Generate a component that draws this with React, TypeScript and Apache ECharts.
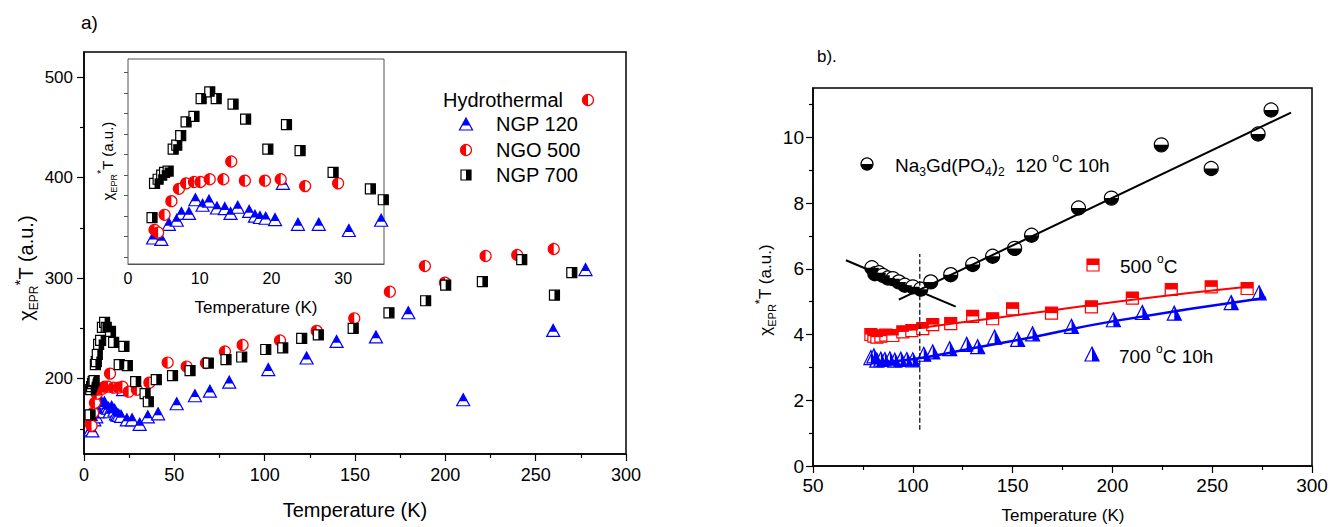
import React, { useEffect, useRef } from 'react';
import * as echarts from 'echarts';

// ---------- Panel a) data (Temperature K, chi*T a.u.) ----------
// NGP 120 (blue triangles)
const ngp120LowT = [3.5, 4.65, 5.7, 6.8, 7.45, 8.5, 9.4, 10.4, 11.3, 12.4, 13.5, 14.3, 15.3, 16.9, 17.7, 18.4, 19.2, 20.5, 21.6, 23.7, 26.6, 30.8, 35.3];
const ngp120LowV = [149, 148, 159, 162, 167, 167, 177, 173, 176, 171, 170.5, 167, 171.5, 168.5, 165, 164, 163.5, 162.5, 189, 159, 159, 154.5, 162];
const ngp120HighT = [41, 51.3, 61.4, 69.7, 80.4, 102, 123.2, 139.8, 161.6, 179.5, 209.9, 259.7, 277.6];
const ngp120HighV = [165, 175, 183, 187.5, 196.5, 209, 220.5, 237, 241.5, 265.5, 179, 248, 308.5];
// NGO 500 (red half circles)
const ngo500LowT = [3.7, 4.2, 5.1, 6.05, 7.1, 8.1, 9.2, 10.1, 11.4, 13.3, 14.4, 16.3, 19.1, 21.3, 24.7, 29.3];
const ngo500LowV = [155, 153, 166, 176, 185, 189, 190, 190, 192, 192, 205, 191, 191, 192, 187, 189];
const ngo500HighT = [36.2, 46.3, 56.8, 67.5, 78, 87.8, 108.5, 128.8, 149.6, 169.3, 188.7, 199.8, 222.3, 239.8, 260];
const ngo500HighV = [196, 216, 212, 215.5, 227, 233.5, 238, 247.5, 260, 286.5, 312, 295.5, 322, 323, 329];
// NGP 700 (black half squares)
const ngp700LowT = [3.35, 3.7, 4.2, 4.7, 5.1, 5.6, 6.3, 6.8, 7.35, 8.1, 9.2, 10.2, 11.4, 12.3, 14.65, 16.4, 19.5, 22.1, 24.0, 28.6, 33.8, 35.6];
const ngp700LowV = [164, 189, 192, 195, 197, 198, 214, 217, 224, 234, 238, 251, 256, 251, 247, 236, 214, 232, 213, 197, 185, 177];
const ngp700HighT = [40, 49, 58.7, 68.8, 78.6, 87.3, 100.6, 110, 120.5, 129.7, 149, 168.8, 189.1, 200.2, 220.5, 242.3, 260.4, 270];
const ngp700HighV = [199, 203, 208, 215.5, 219, 221.5, 229, 230.5, 240, 243.5, 250, 265.5, 277.5, 293, 296.5, 318.5, 283, 305.5];

const aMainYLabels = [200, 300, 400, 500];
const aMainYMinor = [150, 250, 350, 450];
const aInsetXLabels = [0, 10, 20, 30];
const aInsetYTicks = [135, 150, 165, 180, 195, 210, 225, 240, 255, 270];

// ---------- Panel b) data ----------
const b120T = [79.5, 81, 83, 85, 87.5, 90, 93, 96, 100, 104, 109, 119, 130, 140, 151, 159.5, 183, 199.5, 224.5, 249.5, 273, 279.5];
const b120V = [6.03, 5.85, 5.88, 5.8, 5.72, 5.7, 5.6, 5.5, 5.45, 5.38, 5.6, 5.82, 6.13, 6.38, 6.62, 7.02, 7.85, 8.15, 9.77, 9.05, 10.1, 10.83];
const b500T = [79, 80.5, 82, 84, 86.5, 90, 95, 99.5, 105, 110, 119, 130, 140, 150, 169.5, 189.5, 210, 229.5, 249.5, 267.5];
const b500V = [4.0, 3.95, 3.92, 3.95, 3.98, 3.97, 4.08, 4.12, 4.18, 4.3, 4.33, 4.55, 4.48, 4.78, 4.65, 4.84, 5.11, 5.37, 5.45, 5.4];
const b700T = [79, 80.5, 82, 84, 86, 88.5, 91, 94, 97, 100, 105.5, 110, 118.5, 127, 132.5, 141, 152.5, 160, 179.5, 200.5, 215, 231, 259.5, 273.5];
const b700V = [3.3, 3.35, 3.22, 3.25, 3.24, 3.26, 3.22, 3.25, 3.24, 3.23, 3.4, 3.47, 3.57, 3.7, 3.63, 3.92, 3.85, 4.02, 4.25, 4.45, 4.67, 4.65, 4.97, 5.27];
const bFit1T = [66.5, 121.5];
const bFit1V = [6.26, 4.85];
const bFit2T = [93, 289.5];
const bFit2V = [5.06, 10.75];
const bFitRedT = [80, 103.5, 153.5, 210, 270];
const bFitRedV = [3.98, 4.2, 4.6, 5.06, 5.47];
const bFitBlueT = [79, 100, 130, 160, 200, 277];
const bFitBlueV = [3.15, 3.25, 3.58, 3.92, 4.4, 5.12];
const bDashT = [103.5, 103.5];
const bDashV = [1.1, 6.45];
const bYLabels = [0, 2, 4, 6, 8, 10];
const bYMinor = [1, 3, 5, 7, 9, 11];

const FONT = '"Liberation Sans", Arial, Helvetica, sans-serif';
const RED = '#ff0000';
const BLUE = '#0000ff';
const BLACK = '#000000';

const leftSemi = 'path://M1,0 C0.448,0 0,0.448 0,1 C0,1.552 0.448,2 1,2 Z';
const bottomSemi = 'path://M0,0 C0,0.552 0.448,1 1,1 C1.552,1 2,0.552 2,0 Z';
const rightTri = 'path://M0,0 L1,2 L0,2 Z';

function pairs(t: number[], v: number[]) {
  return t.map((x, i) => [x, v[i]]);
}

function marker(data: number[][], xi: number, yi: number, color: string, outline: any, fill: any, z = 3) {
  return [
    {
      type: 'scatter', xAxisIndex: xi, yAxisIndex: yi, data, z,
      symbol: outline.symbol, symbolSize: outline.size,
      itemStyle: { color: '#ffffff', borderColor: color, borderWidth: 1.2, opacity: 1 },
      silent: true,
    },
    {
      type: 'scatter', xAxisIndex: xi, yAxisIndex: yi, data, z,
      symbol: fill.symbol, symbolSize: fill.size, symbolOffset: fill.offset,
      itemStyle: { color, borderWidth: 0, opacity: 1 },
      silent: true,
    },
  ];
}

const triA = { o: { symbol: 'triangle', size: [13, 12] }, f: { symbol: 'triangle', size: [8, 7.4], offset: [0, -2.3] } };
const cirA = { o: { symbol: 'circle', size: 11 }, f: { symbol: leftSemi, size: [5.5, 11], offset: [-2.75, 0] } };
const sqA = { o: { symbol: 'rect', size: 10 }, f: { symbol: 'rect', size: [5, 10], offset: [2.5, 0] } };
const cirB = { o: { symbol: 'circle', size: 14 }, f: { symbol: bottomSemi, size: [14, 7], offset: [0, 3.5] } };
const sqB = { o: { symbol: 'rect', size: 12 }, f: { symbol: 'rect', size: [12, 6], offset: [0, -3] } };
const triB = { o: { symbol: 'triangle', size: 14 }, f: { symbol: rightTri, size: [7, 14], offset: [3.5, 0] } };

function yTitle(x: number, y: number, size: number) {
  return {
    type: 'text', x, y, rotation: Math.PI / 2, z: 50,
    style: {
      text: '{a|χ}{s|EPR}{p|*}{a|T (a.u.)}',
      align: 'center', verticalAlign: 'middle', fill: '#000', fontFamily: FONT,
      rich: {
        a: { fontSize: size, lineHeight: size + 8, fontFamily: FONT, fill: '#000' },
        s: { fontSize: Math.round(size * 0.62), verticalAlign: 'bottom', lineHeight: Math.round(size * 0.62), fontFamily: FONT, fill: '#000' },
        p: { fontSize: Math.round(size * 0.75), verticalAlign: 'top', lineHeight: Math.round(size * 0.75), fontFamily: FONT, fill: '#000' },
      },
    },
  };
}

function text(x: number, y: number, t: string, size: number, align = 'left', extra: any = {}) {
  return {
    type: 'text', x, y, z: 50,
    style: { text: t, fontSize: size, fontFamily: FONT, fill: '#000', align, verticalAlign: 'middle', ...extra },
  };
}

function halfCircleLeft(cx: number, cy: number, r: number, color: string) {
  return [
    { type: 'circle', z: 50, shape: { cx, cy, r }, style: { fill: '#fff', stroke: color, lineWidth: 1.2 } },
    { type: 'sector', z: 51, shape: { cx, cy, r, r0: 0, startAngle: Math.PI / 2, endAngle: (3 * Math.PI) / 2 }, style: { fill: color } },
  ];
}

function halfCircleBottom(cx: number, cy: number, r: number, color: string) {
  return [
    { type: 'circle', z: 50, shape: { cx, cy, r }, style: { fill: '#fff', stroke: color, lineWidth: 1.2 } },
    { type: 'sector', z: 51, shape: { cx, cy, r, r0: 0, startAngle: 0, endAngle: Math.PI }, style: { fill: color } },
  ];
}

const axisLineStyle = { color: '#000', width: 1.5 };
const labelStyle = (size: number, margin: number) => ({ color: '#000', fontSize: size, fontFamily: FONT, margin });

export default function App() {
  const ref = useRef<HTMLDivElement>(null);
  useEffect(() => {
    const chart = echarts.init(ref.current!, null, { renderer: 'svg' });
    const ngp120All = pairs(ngp120LowT.concat(ngp120HighT), ngp120LowV.concat(ngp120HighV));
    const ngo500All = pairs(ngo500LowT.concat(ngo500HighT), ngo500LowV.concat(ngo500HighV));
    const ngp700All = pairs(ngp700LowT.concat(ngp700HighT), ngp700LowV.concat(ngp700HighV));
    const ngp120Low = pairs(ngp120LowT, ngp120LowV);
    const ngo500Low = pairs(ngo500LowT, ngo500LowV);
    const ngp700Low = pairs(ngp700LowT, ngp700LowV);

    const lineSeries = (t: number[], v: number[], color: string, width: number, smooth = false, type = 'solid') => ({
      type: 'line', xAxisIndex: 2, yAxisIndex: 3, data: pairs(t, v), showSymbol: false, symbol: 'none', smooth,
      lineStyle: { color, width, type }, z: 5, silent: true,
    });

    const option: any = {
      animation: false,
      textStyle: { fontFamily: FONT, color: '#000' },
      grid: [
        { left: 84, top: 52, width: 542, height: 402, show: true, borderColor: '#000', borderWidth: 1.5, backgroundColor: 'transparent', outerBoundsMode: 'none', containLabel: false },
        { left: 128, top: 59, width: 256, height: 205, show: true, borderColor: '#555', borderWidth: 1, backgroundColor: '#fff', outerBoundsMode: 'none', containLabel: false, z: 1 },
        { left: 813, top: 88, width: 499, height: 378, show: true, borderColor: '#000', borderWidth: 1.5, backgroundColor: 'transparent', outerBoundsMode: 'none', containLabel: false },
      ],
      xAxis: [
        {
          gridIndex: 0, type: 'value', min: 0, max: 300, interval: 50,
          axisLine: { show: true, lineStyle: axisLineStyle }, axisTick: { show: true, length: 7, lineStyle: { color: '#000', width: 1.2 } },
          minorTick: { show: true, splitNumber: 2, length: 4, lineStyle: { color: '#000', width: 1.2 } },
          axisLabel: labelStyle(18, 12), splitLine: { show: false }, minorSplitLine: { show: false },
        },
        {
          gridIndex: 1, type: 'value', min: 0, max: 35.7,
          axisLine: { show: true, lineStyle: { color: '#555', width: 1 } },
          axisTick: { show: true, inside: true, length: 5, customValues: aInsetXLabels, lineStyle: { color: '#555' } },
          axisLabel: { ...labelStyle(16, 6), customValues: aInsetXLabels }, splitLine: { show: false },
        },
        {
          gridIndex: 2, type: 'value', min: 50, max: 300, interval: 50,
          axisLine: { show: true, lineStyle: axisLineStyle }, axisTick: { show: true, length: 7, lineStyle: { color: '#000', width: 1.2 } },
          minorTick: { show: true, splitNumber: 2, length: 4, lineStyle: { color: '#000', width: 1.2 } },
          axisLabel: labelStyle(19, 10), splitLine: { show: false }, minorSplitLine: { show: false },
        },
      ],
      yAxis: [
        {
          gridIndex: 0, type: 'value', min: 125, max: 525, position: 'left',
          axisLine: { show: true, lineStyle: axisLineStyle },
          axisTick: { show: true, length: 7, customValues: aMainYLabels, lineStyle: { color: '#000', width: 1.2 } },
          axisLabel: { ...labelStyle(17, 11), customValues: aMainYLabels }, splitLine: { show: false },
        },
        {
          gridIndex: 0, type: 'value', min: 125, max: 525, position: 'left', offset: 0,
          axisLine: { show: false }, axisLabel: { show: false }, splitLine: { show: false },
          axisTick: { show: true, length: 4, customValues: aMainYMinor, lineStyle: { color: '#000', width: 1.2 } },
        },
        {
          gridIndex: 1, type: 'value', min: 130, max: 280, position: 'left',
          axisLine: { show: true, lineStyle: { color: '#555', width: 1 } },
          axisTick: { show: true, length: 4, customValues: aInsetYTicks, lineStyle: { color: '#555' } },
          axisLabel: { show: false }, splitLine: { show: false },
        },
        {
          gridIndex: 2, type: 'value', min: 0, max: 11.5, position: 'left',
          axisLine: { show: true, lineStyle: axisLineStyle },
          axisTick: { show: true, length: 7, customValues: bYLabels, lineStyle: { color: '#000', width: 1.2 } },
          axisLabel: { ...labelStyle(19, 9), customValues: bYLabels }, splitLine: { show: false },
        },
        {
          gridIndex: 2, type: 'value', min: 0, max: 11.5, position: 'left', offset: 0,
          axisLine: { show: false }, axisLabel: { show: false }, splitLine: { show: false },
          axisTick: { show: true, length: 4, customValues: bYMinor, lineStyle: { color: '#000', width: 1.2 } },
        },
      ],
      series: [
        ...marker(ngp120All, 0, 0, BLUE, triA.o, triA.f),
        ...marker(ngo500All, 0, 0, RED, cirA.o, cirA.f),
        ...marker(ngp700All, 0, 0, BLACK, sqA.o, sqA.f),
        ...marker(ngp120Low, 1, 2, BLUE, triA.o, triA.f, 4),
        ...marker(ngo500Low, 1, 2, RED, cirA.o, cirA.f, 4),
        ...marker(ngp700Low, 1, 2, BLACK, sqA.o, sqA.f, 4),
        ...marker(pairs(b120T, b120V), 2, 3, BLACK, cirB.o, cirB.f),
        ...marker(pairs(b500T, b500V), 2, 3, RED, sqB.o, sqB.f),
        ...marker(pairs(b700T, b700V), 2, 3, BLUE, triB.o, triB.f),
        lineSeries(bFit1T, bFit1V, BLACK, 2),
        lineSeries(bFit2T, bFit2V, BLACK, 2),
        lineSeries(bFitRedT, bFitRedV, RED, 2, true),
        lineSeries(bFitBlueT, bFitBlueV, BLUE, 2.5, true),
        lineSeries(bDashT, bDashV, BLACK, 1.2, false, 'dashed'),
      ],
      graphic: [
        text(81, 22, 'a)', 19),
        text(817, 56, 'b).', 17),
        yTitle(26, 268, 20),
        text(355, 510, 'Temperature (K)', 20, 'center'),
        yTitle(107, 161, 15),
        text(256, 307, 'Temperature (K)', 17, 'center'),
        yTitle(765, 290, 17),
        text(1063, 515, 'Temperature (K)', 17, 'center'),
        // legend a
        text(443, 100, 'Hydrothermal', 20),
        ...halfCircleLeft(588, 100, 5.5, RED),
        { type: 'polygon', z: 50, shape: { points: [[459.5, 130], [472.5, 130], [466, 118]] }, style: { fill: '#fff', stroke: BLUE, lineWidth: 1.2 } },
        { type: 'polygon', z: 51, shape: { points: [[462, 125.4], [470, 125.4], [466, 118]] }, style: { fill: BLUE } },
        text(496, 124, 'NGP 120', 20),
        ...halfCircleLeft(466, 150, 5.5, RED),
        text(496, 150, 'NGO 500', 20),
        { type: 'rect', z: 50, shape: { x: 461, y: 170, width: 10, height: 10 }, style: { fill: '#fff', stroke: BLACK, lineWidth: 1.2 } },
        { type: 'rect', z: 51, shape: { x: 466, y: 170, width: 5, height: 10 }, style: { fill: BLACK } },
        text(496, 175, 'NGP 700', 20),
        // legend b
        ...halfCircleBottom(867, 164, 6, BLACK),
        {
          type: 'text', x: 895, y: 165, z: 50,
          style: {
            text: '{n|Na}{s|3}{n|Gd(PO}{s|4}{n|)}{s|2}{n|  120 }{p|o}{n|C 10h}',
            verticalAlign: 'middle', align: 'left', fontFamily: FONT, fill: '#000',
            rich: {
              n: { fontSize: 19, lineHeight: 26, fontFamily: FONT, fill: '#000' },
              s: { fontSize: 12, lineHeight: 12, verticalAlign: 'bottom', fontFamily: FONT, fill: '#000' },
              p: { fontSize: 12, lineHeight: 12, verticalAlign: 'top', fontFamily: FONT, fill: '#000' },
            },
          },
        },
        { type: 'rect', z: 50, shape: { x: 1087, y: 259, width: 12, height: 12 }, style: { fill: '#fff', stroke: RED, lineWidth: 1.2 } },
        { type: 'rect', z: 51, shape: { x: 1087, y: 259, width: 12, height: 6 }, style: { fill: RED } },
        {
          type: 'text', x: 1120, y: 266, z: 50,
          style: {
            text: '{n|500 }{p|o}{n|C}', verticalAlign: 'middle', align: 'left', fontFamily: FONT, fill: '#000',
            rich: {
              n: { fontSize: 19, lineHeight: 26, fontFamily: FONT, fill: '#000' },
              p: { fontSize: 12, lineHeight: 12, verticalAlign: 'top', fontFamily: FONT, fill: '#000' },
            },
          },
        },
        { type: 'polygon', z: 50, shape: { points: [[1085, 361], [1099, 361], [1092, 347]] }, style: { fill: '#fff', stroke: BLUE, lineWidth: 1.2 } },
        { type: 'polygon', z: 51, shape: { points: [[1092, 347], [1099, 361], [1092, 361]] }, style: { fill: BLUE } },
        {
          type: 'text', x: 1119, y: 356, z: 50,
          style: {
            text: '{n|700 }{p|o}{n|C 10h}', verticalAlign: 'middle', align: 'left', fontFamily: FONT, fill: '#000',
            rich: {
              n: { fontSize: 19, lineHeight: 26, fontFamily: FONT, fill: '#000' },
              p: { fontSize: 12, lineHeight: 12, verticalAlign: 'top', fontFamily: FONT, fill: '#000' },
            },
          },
        },
      ],
    };
    chart.setOption(option);
    return () => chart.dispose();
  }, []);
  return <div ref={ref} style={{ position: 'fixed', left: 0, top: 0, width: 1330, height: 527, background: '#fff' }} />;
}
